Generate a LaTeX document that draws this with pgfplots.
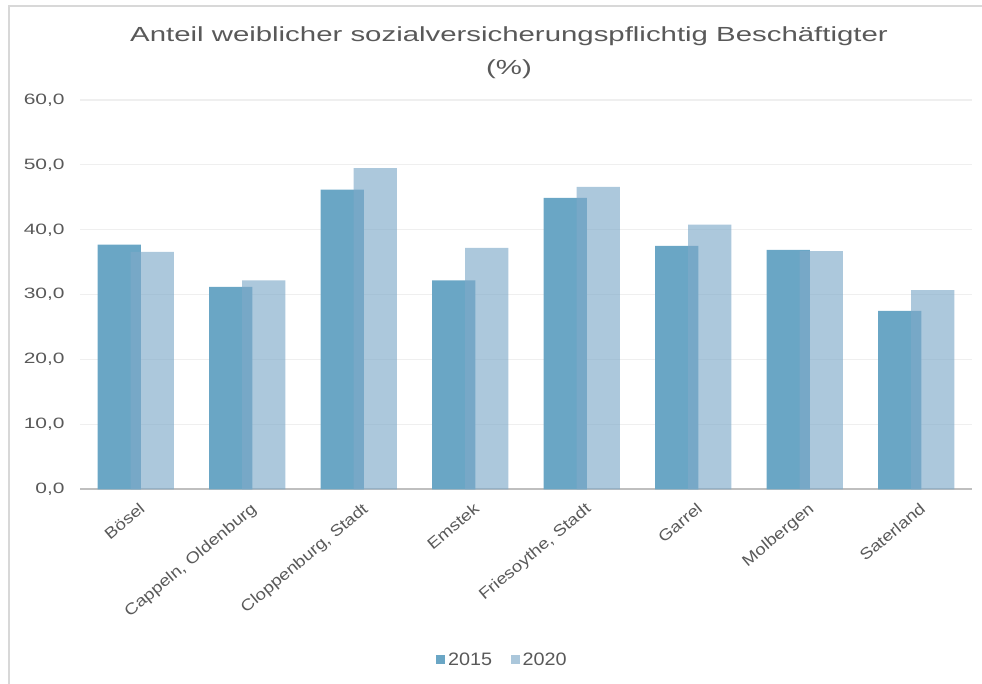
\documentclass[border=0pt]{standalone}
\usepackage{pgfplots}
\pgfplotsset{compat=1.18}
\usepackage{pgfplotstable}
\usepackage{fontspec}
\setmainfont{Liberation Sans}
\newfontfamily\titlefont{Liberation Sans}[FakeStretch=1.44]
\newfontfamily\tickfont{Liberation Sans}[FakeStretch=1.4]
\newfontfamily\legfont{Liberation Sans}[FakeStretch=1.1]
\newfontfamily\catfont{Liberation Sans}[FakeStretch=1.18]

\definecolor{txt}{HTML}{595959}
\definecolor{bara}{RGB}{106,166,197}
\definecolor{barb}{RGB}{127,170,201}
\definecolor{gridc}{HTML}{EFEFEF}
\definecolor{axisc}{HTML}{BFBFBF}
\definecolor{frame}{HTML}{D8D8D8}

\pgfplotstableread{
x  y15  y20
0  37.7 36.6
1  31.2 32.2
2  46.2 49.5
3  32.2 37.2
4  44.9 46.6
5  37.5 40.8
6  36.9 36.7
7  27.5 30.7
}\shares

\begin{document}
\begin{tikzpicture}
\useasboundingbox (0,0) rectangle (736.5pt,513pt);
% frame of the screenshot
\draw[frame, line width=1.5pt] (6.75pt,0) -- (6.75pt,508.5pt) -- (736.5pt,508.5pt);

\node[anchor=base, text=txt, font=\titlefont\fontsize{15.3}{18}\selectfont] at (381.75pt,481.5pt)
  {Anteil weiblicher sozialversicherungspflichtig Beschäftigter};
\node[anchor=base, text=txt, font=\titlefont\fontsize{15.3}{18}\selectfont] at (381.75pt,456.75pt) {(\%)};

\begin{axis}[
    at={(60pt,146pt)}, anchor=south west,
    scale only axis,
    width=669pt, height=292pt,
    xmin=-0.5, xmax=7.5,
    ymin=0, ymax=60,
    ytick={0,10,...,60},
    xtick=data,
    xticklabels={Bösel, {Cappeln, Oldenburg}, {Cloppenburg, Stadt}, Emstek,
                 {Friesoythe, Stadt}, Garrel, Molbergen, Saterland},
    major tick length=0pt,
    ymajorgrids=true,
    grid style={gridc, line width=0.8pt},
    axis x line*=bottom,
    axis y line*=left,
    x axis line style={axisc, line width=1.5pt, -},
    y axis line style={draw=none},
    yticklabel style={text=txt, font=\tickfont\fontsize{11.25}{13}\selectfont, xshift=-8pt,
        /pgf/number format/.cd, fixed, fixed zerofill, precision=1, use comma, assume math mode=true},
    xticklabel style={text=txt, font=\catfont\fontsize{11.8}{14}\selectfont, rotate=40, anchor=north east,
        xshift=-1pt, yshift=-5pt},
    ybar,
    bar width=0.386,
    legend style={at={(0.474,-0.438)}, anchor=center, draw=none, legend columns=2,
        font=\legfont\fontsize{13.5}{15}\selectfont, text=txt,
        /tikz/every even column/.append style={column sep=12pt}},
    legend image code/.code={\fill[#1] (0pt,-3.4pt) rectangle (6.8pt,3.4pt);},
]
\addplot[fill=bara, draw=none, bar shift=-0.148] table[x=x, y=y15] {\shares};
\addlegendentry{2015}
\addplot[fill=barb, fill opacity=0.65, draw=none, bar shift=0.148] table[x=x, y=y20] {\shares};
\addlegendentry{2020}
\end{axis}
\end{tikzpicture}
\end{document}
